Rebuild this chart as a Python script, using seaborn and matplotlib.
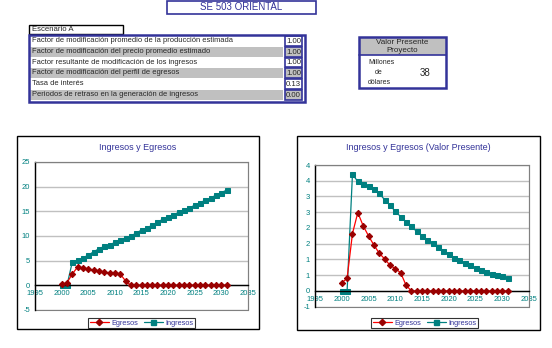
import matplotlib
matplotlib.use("Agg")
import matplotlib.pyplot as plt
import seaborn as sns
import pandas as pd
from matplotlib.patches import Rectangle
from matplotlib.lines import Line2D

# ---------------- data ----------------
years = list(range(2000, 2032))
ingresos = [0.0, 0.0, 4.7, 5.1, 5.6, 6.1, 6.8, 7.4, 7.9, 8.2, 8.7, 9.2, 9.6, 10.0,
            10.6, 11.2, 11.6, 12.2, 12.8, 13.4, 13.8, 14.3, 14.8, 15.2, 15.6, 16.3,
            16.7, 17.3, 17.7, 18.3, 18.8, 19.3]
egresos = [0.2, 0.5, 2.3, 3.7, 3.5, 3.3, 3.1, 2.9, 2.7, 2.5, 2.5, 2.3, 0.9, 0.0,
           0.0, 0.0, 0.0, 0.0, 0.0, 0.0, 0.0, 0.0, 0.0, 0.0, 0.0, 0.0, 0.0, 0.0,
           0.0, 0.0, 0.0, 0.0]
ingresos_vp = [0.0, 0.0, 3.70, 3.48, 3.41, 3.32, 3.23, 3.10, 2.90, 2.72, 2.53, 2.36,
               2.19, 2.05, 1.89, 1.75, 1.62, 1.51, 1.40, 1.28, 1.18, 1.06, 0.97, 0.89,
               0.81, 0.73, 0.67, 0.61, 0.54, 0.51, 0.46, 0.42]
egresos_vp = [0.26, 0.40, 1.82, 2.49, 2.07, 1.75, 1.46, 1.20, 1.02, 0.82, 0.71, 0.58,
              0.19, 0.0, 0.0, 0.0, 0.0, 0.0, 0.0, 0.0, 0.0, 0.0, 0.0, 0.0, 0.0, 0.0,
              0.0, 0.0, 0.0, 0.0, 0.0, 0.0]

x_ticks = [1995, 2000, 2005, 2010, 2015, 2020, 2025, 2030, 2035]
y_ticks_left = [-5, 0, 5, 10, 15, 20, 25]
y_ticks_right = [-0.5, 0.0, 0.5, 1.0, 1.5, 2.0, 2.5, 3.0, 3.5, 4.0]
y_labels_right = ["-1", "0", "1", "1", "2", "2", "3", "3", "4", "4"]

row_labels = [
    "Factor de modificación promedio de la producción estimada",
    "Factor de modificación del precio promedio estimado",
    "Factor resultante de modificación de los ingresos",
    "Factor de modificación del perfil de egresos",
    "Tasa de interés",
    "Periodos de retraso en la generación de ingresos",
]
row_values = ["1.00", "1.00", "1.00", "1.00", "0.13", "0.00"]
valor_presente = "38"

# ---------------- style ----------------
sns.set_style("white")
plt.rcParams['font.family'] = ['Liberation Sans', 'DejaVu Sans']

W, H = 552, 348
fig = plt.figure(figsize=(W / 100, H / 100), dpi=100)
fig.patch.set_facecolor("white")

NAVY = "#333399"
TEAL = "#008080"
GRAY = "#c0c0c0"

bg = fig.add_axes([0, 0, 1, 1])
bg.set_xlim(0, W)
bg.set_ylim(H, 0)
bg.axis("off")


def rect(x0, y0, x1, y1, fc="none", ec="black", lw=1.0, z=1):
    bg.add_patch(Rectangle((x0, y0), x1 - x0, y1 - y0, facecolor=fc, edgecolor=ec,
                           linewidth=lw, zorder=z))


# title box
rect(167, 0.5, 316, 13.5, ec=NAVY, lw=1.2)
bg.text(241.5, 7, "SE 503 ORIENTAL", ha="center", va="center", color=NAVY, fontsize=7.0)

# Escenario A
rect(28.5, 24.5, 123, 34, ec="black", lw=1.0)
bg.text(31.5, 29.5, "Escenario A", ha="left", va="center", fontsize=5.6)

# table
row_tops = [35.5, 46.5, 57.0, 67.5, 78.5, 89.5]
row_h = 10.5
for i, (lab, val) in enumerate(zip(row_labels, row_values)):
    y0 = row_tops[i]
    fc = "white" if i % 2 == 0 else GRAY
    rect(30, y0, 283, y0 + row_h, fc=fc, ec="none", lw=0)
    rect(285, y0 + 0.8, 302, y0 + row_h - 0.3, fc=fc, ec=NAVY, lw=1.2, z=2)
    bg.text(31.5, y0 + row_h / 2, lab, ha="left", va="center", fontsize=5.4, zorder=3)
    bg.text(293.5, y0 + row_h / 2 + 0.5, val, ha="center", va="center", fontsize=5.6, zorder=3)
rect(28.5, 34.5, 305, 101.5, ec=NAVY, lw=1.8, z=4)

# valor presente box
rect(358.5, 37, 446, 55, fc=GRAY, ec="none", lw=0)
bg.plot([358.5, 446], [55, 55], color=NAVY, lw=1.2)
rect(358.5, 37, 446, 88, ec=NAVY, lw=1.8, z=4)
bg.text(402, 42.5, "Valor Presente", ha="center", va="center", fontsize=5.8)
bg.text(402, 50.5, "Proyecto", ha="center", va="center", fontsize=5.8)
bg.text(368, 62, "Millones", ha="left", va="center", fontsize=5.0)
bg.text(379, 73, "de", ha="center", va="center", fontsize=5.0)
bg.text(368, 83, "dólares", ha="left", va="center", fontsize=5.0)
bg.text(430, 73, valor_presente, ha="right", va="center", fontsize=7.0)

# chart boxes
rect(17, 136, 259, 329, ec="black", lw=1.0)
rect(296.5, 135.5, 540, 330, ec="black", lw=1.0)


def px_axes(x0, y0, x1, y1):
    return fig.add_axes([x0 / W, 1 - y1 / H, (x1 - x0) / W, (y1 - y0) / H])


def draw_chart(ax, eg, ing, ylim, yticks, ylabels, title, title_xy, leg_xy):
    ax.set_facecolor("white")
    for yt in yticks:
        ax.axhline(yt, color=GRAY, lw=1.0, zorder=0)
    sns.lineplot(x=years, y=eg, ax=ax, color="red", lw=0.9, marker="D",
                 markersize=3.2, markerfacecolor="#990000", markeredgecolor="#990000",
                 zorder=3)
    sns.lineplot(x=years, y=ing, ax=ax, color=TEAL, lw=0.9, marker="s",
                 markersize=3.6, markerfacecolor=TEAL, markeredgecolor=TEAL, zorder=2)
    ax.set_xlim(1995, 2035)
    ax.set_ylim(*ylim)
    ax.set_xticks(x_ticks)
    ax.set_xticklabels([str(v) for v in x_ticks])
    ax.set_yticks(yticks)
    ax.set_yticklabels(ylabels)
    ax.spines["bottom"].set_position(("data", 0))
    for s in ("left", "bottom"):
        ax.spines[s].set_color("black")
        ax.spines[s].set_linewidth(1.0)
    for s in ("top", "right"):
        ax.spines[s].set_color("#808080")
        ax.spines[s].set_linewidth(0.8)
    ax.add_patch(Rectangle((0, 0), 1, 1, transform=ax.transAxes, fill=False,
                           edgecolor="#808080", lw=0.8, zorder=0, clip_on=False))
    ax.tick_params(axis="both", labelsize=5.5, labelcolor=TEAL, length=2,
                   width=0.6, direction="out", pad=1.5)
    ax.set_xlabel("")
    ax.set_ylabel("")
    ax.grid(False)
    bg.text(title_xy[0], title_xy[1], title, ha="center", va="center",
            color=NAVY, fontsize=6.5, zorder=5)
    handles = [
        Line2D([], [], color="red", lw=0.9, marker="D", markersize=3.2,
               markerfacecolor="#990000", markeredgecolor="#990000"),
        Line2D([], [], color=TEAL, lw=0.9, marker="s", markersize=3.6,
               markerfacecolor=TEAL, markeredgecolor=TEAL),
    ]
    leg = fig.legend(handles, ["Egresos", "Ingresos"], loc="center",
                     bbox_to_anchor=(leg_xy[0] / W, 1 - leg_xy[1] / H), ncol=2,
                     frameon=True, fancybox=False, edgecolor="black", fontsize=5.3,
                     handlelength=2.6, columnspacing=0.8, handletextpad=0.3,
                     borderpad=0.25, borderaxespad=0)
    leg.get_frame().set_linewidth(0.8)
    for t in leg.get_texts():
        t.set_color(NAVY)


ax1 = px_axes(35, 162, 248, 310)
draw_chart(ax1, egresos, ingresos, (-5, 25), y_ticks_left,
           [str(v) for v in y_ticks_left], "Ingresos y Egresos", (137.5, 148),
           (141.5, 323))

ax2 = px_axes(315, 165, 529, 306.7)
draw_chart(ax2, egresos_vp, ingresos_vp, (-0.5, 4.0), y_ticks_right,
           y_labels_right, "Ingresos y Egresos (Valor Presente)", (418.5, 147.5),
           (424.5, 323))

fig.savefig("out.png", dpi=100, facecolor="white")
